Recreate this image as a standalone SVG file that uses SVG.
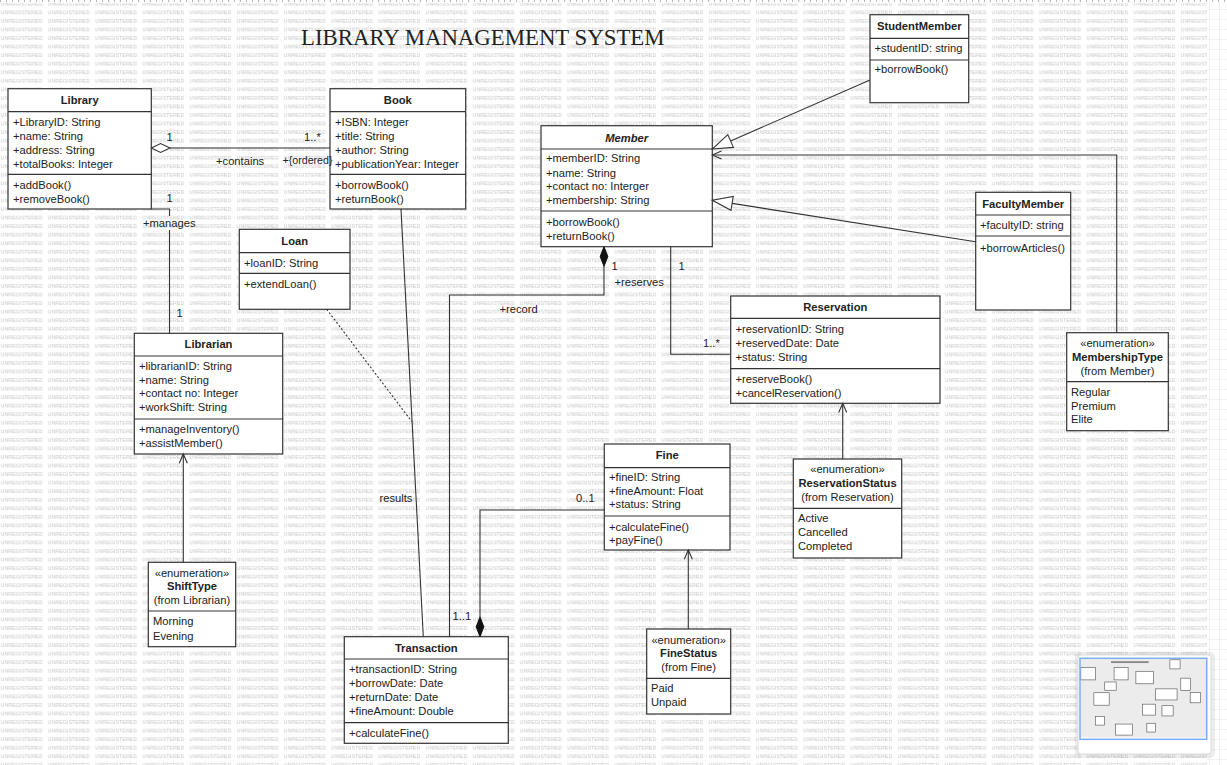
<svg xmlns="http://www.w3.org/2000/svg" width="1227" height="765" viewBox="0 0 1227 765">
<style>
.box{fill:#fff;stroke:#333;stroke-width:1.2}
.sep{stroke:#333;stroke-width:1.2}
.t{font-family:"Liberation Sans",Arial,sans-serif;font-size:11.2px;fill:#222}
.b{font-weight:bold}
.i{font-style:italic}
.c{text-anchor:middle}
.conn{fill:none;stroke:#333;stroke-width:1.1}
.wm{font-family:"Liberation Sans",Arial,sans-serif;font-size:5.3px;fill:#c6c6c6}
.title{font-family:"Liberation Serif","Times New Roman",serif;font-size:22.8px;fill:#222}
.mini{fill:#fff;stroke:#555;stroke-width:6}
</style>
<defs>
<pattern id="wmp" x="0" y="0" width="47.2" height="8.55" patternUnits="userSpaceOnUse">
<text class="wm" x="0.5" y="5.6">UNREGISTERED</text>
</pattern>
<pattern id="grid" x="0" y="0" width="10" height="10" patternUnits="userSpaceOnUse">
<path d="M10,0 V10 M0,10 H10" fill="none" stroke="#e4e4e4" stroke-width="1"/>
</pattern>
</defs>

<!-- background -->
<rect x="0" y="0" width="1227" height="765" fill="#fff"/>
<rect x="0" y="0" width="1227" height="765" fill="url(#grid)"/>
<rect x="0" y="3" width="1207" height="762" fill="#fff"/>
<rect x="0" y="3" width="1207" height="762" fill="url(#wmp)"/>
<line x1="0" y1="1" x2="1227" y2="1" stroke="#b8b8b8" stroke-width="2" stroke-dasharray="1,5"/>

<text class="title" x="301" y="44.5">LIBRARY MANAGEMENT SYSTEM</text>

<!-- nodes -->
<g id="library">
  <rect class="box" x="8" y="88.7" width="143.3" height="120.3"/>
  <line class="sep" x1="8" y1="111.7" x2="151.3" y2="111.7"/>
  <line class="sep" x1="8" y1="174.3" x2="151.3" y2="174.3"/>
  <text class="t b c" x="79.7" y="104">Library</text>
  <text class="t" x="13" y="125.7">+LibraryID: String</text>
  <text class="t" x="13" y="139.7">+name: String</text>
  <text class="t" x="13" y="153.7">+address: String</text>
  <text class="t" x="13" y="167.5">+totalBooks: Integer</text>
  <text class="t" x="13" y="189">+addBook()</text>
  <text class="t" x="13" y="202.5">+removeBook()</text>
</g>

<g id="book">
  <rect class="box" x="330" y="88.7" width="135.7" height="120.3"/>
  <line class="sep" x1="330" y1="111.7" x2="465.7" y2="111.7"/>
  <line class="sep" x1="330" y1="174.3" x2="465.7" y2="174.3"/>
  <text class="t b c" x="397.8" y="104">Book</text>
  <text class="t" x="335" y="125.7">+ISBN: Integer</text>
  <text class="t" x="335" y="139.7">+title: String</text>
  <text class="t" x="335" y="153.7">+author: String</text>
  <text class="t" x="335" y="167.5">+publicationYear: Integer</text>
  <text class="t" x="335" y="189">+borrowBook()</text>
  <text class="t" x="335" y="202.5">+returnBook()</text>
</g>

<g id="member">
  <rect class="box" x="541" y="125.7" width="171.3" height="121"/>
  <line class="sep" x1="541" y1="149" x2="712.3" y2="149"/>
  <line class="sep" x1="541" y1="211" x2="712.3" y2="211"/>
  <text class="t b i c" x="626.6" y="141.5">Member</text>
  <text class="t" x="546" y="162.3">+memberID: String</text>
  <text class="t" x="546" y="176.7">+name: String</text>
  <text class="t" x="546" y="190.3">+contact no: Interger</text>
  <text class="t" x="546" y="204.3">+membership: String</text>
  <text class="t" x="546" y="225.7">+borrowBook()</text>
  <text class="t" x="546" y="239.7">+returnBook()</text>
</g>

<g id="studentmember">
  <rect class="box" x="870" y="14.7" width="98.7" height="88"/>
  <line class="sep" x1="870" y1="38.3" x2="968.7" y2="38.3"/>
  <line class="sep" x1="870" y1="60" x2="968.7" y2="60"/>
  <text class="t b c" x="919.3" y="30">StudentMember</text>
  <text class="t" x="874.5" y="52.3">+studentID: string</text>
  <text class="t" x="874.5" y="73.3">+borrowBook()</text>
</g>

<g id="facultymember">
  <rect class="box" x="975.7" y="192.3" width="95" height="117.7"/>
  <line class="sep" x1="975.7" y1="215" x2="1070.7" y2="215"/>
  <line class="sep" x1="975.7" y1="236" x2="1070.7" y2="236"/>
  <text class="t b c" x="1023.2" y="208.3">FacultyMember</text>
  <text class="t" x="980" y="229">+facultyID: string</text>
  <text class="t" x="980" y="251.7">+borrowArticles()</text>
</g>

<g id="membershiptype">
  <rect class="box" x="1066.7" y="332.7" width="101.6" height="98"/>
  <line class="sep" x1="1066.7" y1="381.7" x2="1168.3" y2="381.7"/>
  <text class="t c" x="1117.5" y="347.3">«enumeration»</text>
  <text class="t b c" x="1117.5" y="360.7">MembershipType</text>
  <text class="t c" x="1117.5" y="374.7">(from Member)</text>
  <text class="t" x="1071" y="396.3">Regular</text>
  <text class="t" x="1071" y="409.7">Premium</text>
  <text class="t" x="1071" y="423.3">Elite</text>
</g>

<g id="loan">
  <rect class="box" x="239.3" y="229.3" width="110.7" height="80"/>
  <line class="sep" x1="239.3" y1="252.7" x2="350" y2="252.7"/>
  <line class="sep" x1="239.3" y1="273.3" x2="350" y2="273.3"/>
  <text class="t b c" x="294.7" y="245.3">Loan</text>
  <text class="t" x="244" y="266.7">+loanID: String</text>
  <text class="t" x="244" y="288">+extendLoan()</text>
</g>

<g id="librarian">
  <rect class="box" x="134.3" y="333.3" width="148.4" height="120.7"/>
  <line class="sep" x1="134.3" y1="356" x2="282.7" y2="356"/>
  <line class="sep" x1="134.3" y1="419" x2="282.7" y2="419"/>
  <text class="t b c" x="208.5" y="348">Librarian</text>
  <text class="t" x="139" y="369.7">+librarianID: String</text>
  <text class="t" x="139" y="383.7">+name: String</text>
  <text class="t" x="139" y="397.3">+contact no: Integer</text>
  <text class="t" x="139" y="411.3">+workShift: String</text>
  <text class="t" x="139" y="433.3">+manageInventory()</text>
  <text class="t" x="139" y="446.7">+assistMember()</text>
</g>

<g id="reservation">
  <rect class="box" x="730.7" y="296" width="209.3" height="107.3"/>
  <line class="sep" x1="730.7" y1="318.3" x2="940" y2="318.3"/>
  <line class="sep" x1="730.7" y1="368.7" x2="940" y2="368.7"/>
  <text class="t b c" x="835.3" y="311.3">Reservation</text>
  <text class="t" x="735.5" y="333.3">+reservationID: String</text>
  <text class="t" x="735.5" y="346.7">+reservedDate: Date</text>
  <text class="t" x="735.5" y="360.7">+status: String</text>
  <text class="t" x="735.5" y="382.7">+reserveBook()</text>
  <text class="t" x="735.5" y="396.7">+cancelReservation()</text>
</g>

<g id="reservationstatus">
  <rect class="box" x="793.3" y="459" width="108.4" height="99"/>
  <line class="sep" x1="793.3" y1="508.3" x2="901.7" y2="508.3"/>
  <text class="t c" x="847.5" y="473.3">«enumeration»</text>
  <text class="t b c" x="847.5" y="486.7">ReservationStatus</text>
  <text class="t c" x="847.5" y="500.7">(from Reservation)</text>
  <text class="t" x="798" y="522.3">Active</text>
  <text class="t" x="798" y="535.7">Cancelled</text>
  <text class="t" x="798" y="549.7">Completed</text>
</g>

<g id="fine">
  <rect class="box" x="604.3" y="444" width="125.7" height="106"/>
  <line class="sep" x1="604.3" y1="467.7" x2="730" y2="467.7"/>
  <line class="sep" x1="604.3" y1="516" x2="730" y2="516"/>
  <text class="t b c" x="667.2" y="459">Fine</text>
  <text class="t" x="609" y="480.7">+fineID: String</text>
  <text class="t" x="609" y="495">+fineAmount: Float</text>
  <text class="t" x="609" y="508.3">+status: String</text>
  <text class="t" x="609" y="530.7">+calculateFine()</text>
  <text class="t" x="609" y="544">+payFine()</text>
</g>

<g id="finestatus">
  <rect class="box" x="646.7" y="629" width="84" height="85"/>
  <line class="sep" x1="646.7" y1="678.3" x2="730.7" y2="678.3"/>
  <text class="t c" x="688.7" y="644">«enumeration»</text>
  <text class="t b c" x="688.7" y="657.3">FineStatus</text>
  <text class="t c" x="688.7" y="671.3">(from Fine)</text>
  <text class="t" x="651" y="692.3">Paid</text>
  <text class="t" x="651" y="705.7">Unpaid</text>
</g>

<g id="transaction">
  <rect class="box" x="344.3" y="636.7" width="164" height="106.6"/>
  <line class="sep" x1="344.3" y1="659" x2="508.3" y2="659"/>
  <line class="sep" x1="344.3" y1="722.7" x2="508.3" y2="722.7"/>
  <text class="t b c" x="426.3" y="652.3">Transaction</text>
  <text class="t" x="349" y="673.3">+transactionID: String</text>
  <text class="t" x="349" y="687.3">+borrowDate: Date</text>
  <text class="t" x="349" y="701.3">+returnDate: Date</text>
  <text class="t" x="349" y="715">+fineAmount: Double</text>
  <text class="t" x="349" y="736.7">+calculateFine()</text>
</g>

<g id="shifttype">
  <rect class="box" x="148.3" y="562.3" width="87.4" height="84.4"/>
  <line class="sep" x1="148.3" y1="611" x2="235.7" y2="611"/>
  <text class="t c" x="192" y="576.7">«enumeration»</text>
  <text class="t b c" x="192" y="590">ShiftType</text>
  <text class="t c" x="192" y="604">(from Librarian)</text>
  <text class="t" x="153" y="625">Morning</text>
  <text class="t" x="153" y="639.7">Evening</text>
</g>

<!-- connectors -->
<g id="connectors">
  <!-- Library - Book aggregation -->
  <line class="conn" x1="170" y1="148" x2="330" y2="148"/>
  <polygon points="151.3,148 160.6,143.6 170,148 160.6,152.4" fill="#fff" stroke="#333" stroke-width="1.1"/>
  <text class="t" x="166.5" y="140.5">1</text>
  <text class="t" x="304" y="140.5">1..*</text>
  <text class="t" x="216" y="165.3">+contains</text>
  <text class="t" x="282.5" y="164.3" textLength="50" lengthAdjust="spacingAndGlyphs">+{ordered}</text>

  <!-- Library - Librarian -->
  <path class="conn" d="M151.3,209 H169.5 V216 M169.5,230 V333.3"/>
  <text class="t" x="166.5" y="202.3">1</text>
  <text class="t" x="143" y="227.3">+manages</text>
  <text class="t" x="176.5" y="316.7">1</text>

  <!-- StudentMember -> Member generalization -->
  <line class="conn" x1="730.6" y1="141" x2="870" y2="80"/>
  <polygon points="712.3,149 733.4,147.4 727.8,134.6" fill="#fff" stroke="#333" stroke-width="1.1"/>

  <!-- FacultyMember -> Member generalization -->
  <line class="conn" x1="732.1" y1="203.4" x2="975.7" y2="241.7"/>
  <polygon points="712.3,200.3 731,210.3 733.2,196.5" fill="#fff" stroke="#333" stroke-width="1.1"/>

  <!-- MembershipType -> Member -->
  <path class="conn" d="M1116.7,332.7 V155 H712.3"/>
  <path class="conn" d="M721.5,151 L712.3,155 L721.5,159"/>

  <!-- Loan association class dotted -->
  <line class="conn" x1="326.7" y1="309.3" x2="411.9" y2="421.7" stroke-dasharray="2,2"/>

  <!-- Book - Transaction -->
  <line class="conn" x1="401" y1="209" x2="423.3" y2="636.7"/>
  <text class="t" x="379.5" y="502">results</text>

  <!-- Member - Transaction composition -->
  <path class="conn" d="M604,266 V295 H449.5 V636.7"/>
  <polygon points="604,246.7 607.8,256.5 604,266.3 600.2,256.5" fill="#111" stroke="#111" stroke-width="1"/>
  <text class="t" x="611.5" y="269.8">1</text>
  <text class="t" x="614.5" y="285.7">+reserves</text>
  <text class="t" x="499.5" y="313.3">+record</text>

  <!-- Member - Reservation -->
  <path class="conn" d="M670.7,246.7 V354.3 H730.7"/>
  <text class="t" x="678.5" y="269.8">1</text>
  <text class="t" x="703" y="346.7">1..*</text>

  <!-- ReservationStatus -> Reservation -->
  <path class="conn" d="M842.7,459 V403.3"/>
  <path class="conn" d="M838.7,412.5 L842.7,403.3 L846.7,412.5"/>

  <!-- FineStatus -> Fine -->
  <path class="conn" d="M688.3,629 V550"/>
  <path class="conn" d="M684.3,559.2 L688.3,550 L692.3,559.2"/>

  <!-- Fine - Transaction composition -->
  <path class="conn" d="M604.3,510 H480 V617"/>
  <polygon points="480,636.7 483.8,626.8 480,616.9 476.2,626.8" fill="#111" stroke="#111" stroke-width="1"/>
  <text class="t" x="576" y="502.3">0..1</text>
  <text class="t" x="452.5" y="620">1..1</text>

  <!-- ShiftType -> Librarian -->
  <path class="conn" d="M183.3,562.3 V454"/>
  <path class="conn" d="M179.3,463.2 L183.3,454 L187.3,463.2"/>
</g>

<!-- minimap -->
<g id="minimap">
  <rect x="1075" y="652" width="140" height="106" rx="5" fill="#000" opacity="0.07"/>
  <rect x="1078" y="655" width="133" height="99" rx="3" fill="#fff" stroke="#ddd" stroke-width="1"/>
  <g transform="translate(1080,658.3) scale(0.1033)">
    <rect x="0" y="0" width="1227" height="765" fill="#ececec"/>
    <rect x="300" y="28" width="364" height="18" fill="#888"/>
    <rect class="mini" x="8" y="88.7" width="143.3" height="120.3"/>
    <rect class="mini" x="330" y="88.7" width="135.7" height="120.3"/>
    <rect class="mini" x="541" y="125.7" width="171.3" height="121"/>
    <rect class="mini" x="870" y="14.7" width="98.7" height="88"/>
    <rect class="mini" x="975.7" y="192.3" width="95" height="117.7"/>
    <rect class="mini" x="1066.7" y="332.7" width="101.6" height="98"/>
    <rect class="mini" x="239.3" y="229.3" width="110.7" height="80"/>
    <rect class="mini" x="134.3" y="333.3" width="148.4" height="120.7"/>
    <rect class="mini" x="730.7" y="296" width="209.3" height="107.3"/>
    <rect class="mini" x="793.3" y="459" width="108.4" height="99"/>
    <rect class="mini" x="604.3" y="444" width="125.7" height="106"/>
    <rect class="mini" x="646.7" y="629" width="84" height="85"/>
    <rect class="mini" x="344.3" y="636.7" width="164" height="106.6"/>
    <rect class="mini" x="148.3" y="562.3" width="87.4" height="84.4"/>
  </g>
  <rect x="1080" y="658.3" width="126.7" height="81" fill="none" stroke="#7aaefc" stroke-width="1.5"/>
</g>
</svg>
